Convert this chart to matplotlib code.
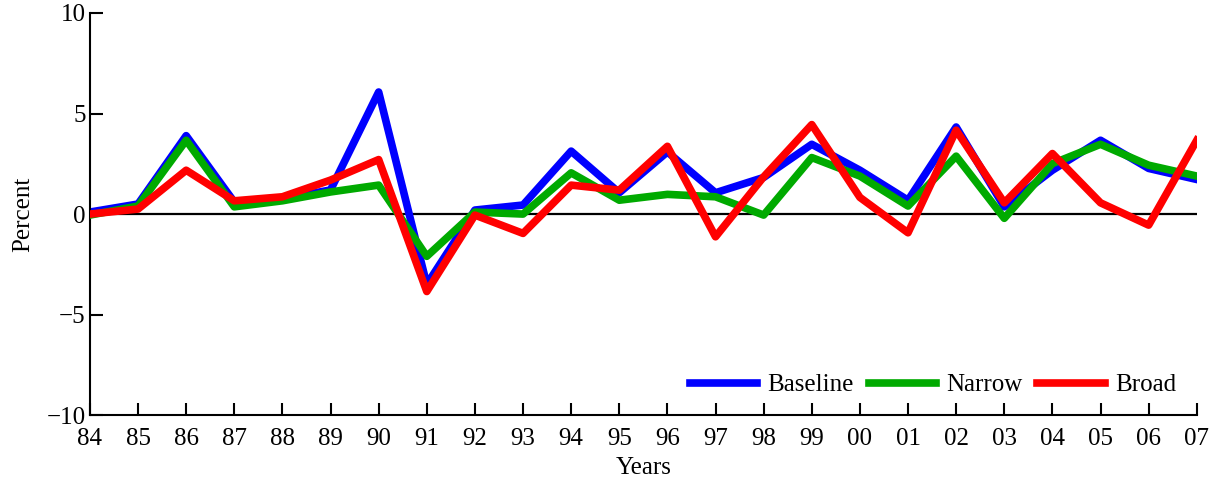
import matplotlib
matplotlib.use("Agg")
import matplotlib.pyplot as plt
import numpy as np

years = ["84", "85", "86", "87", "88", "89", "90", "91", "92", "93", "94", "95",
         "96", "97", "98", "99", "00", "01", "02", "03", "04", "05", "06", "07"]
baseline = [0.1, 0.5, 3.9, 0.6, 0.75, 1.2, 6.07, -3.5, 0.2, 0.45, 3.13, 1.06,
            3.09, 1.06, 1.82, 3.47, 2.18, 0.69, 4.33, 0.36, 2.18, 3.67, 2.27, 1.72]
narrow = [-0.05, 0.4, 3.67, 0.36, 0.66, 1.1, 1.44, -2.1, 0.1, 0.0, 2.05, 0.69,
          0.98, 0.86, -0.05, 2.81, 1.89, 0.4, 2.88, -0.21, 2.51, 3.47, 2.43, 1.89]
broad = [0.0, 0.25, 2.18, 0.66, 0.86, 1.69, 2.71, -3.85, -0.05, -0.96, 1.44, 1.19,
         3.37, -1.13, 1.85, 4.45, 0.83, -0.93, 4.17, 0.56, 3.01, 0.56, -0.55, 3.67]

plt.rcParams["font.family"] = ["Liberation Serif", "DejaVu Serif"]
plt.rcParams["font.size"] = 18

fig = plt.figure(figsize=(12.15, 4.8), dpi=100)
ax = fig.add_axes([0.074, 0.135, 0.911, 0.838])

x = np.arange(len(years))
ax.axhline(0, color="black", lw=1.6, zorder=1)
ax.plot(x, baseline, color="#0000ff", lw=5.5, label="Baseline", zorder=2)
ax.plot(x, narrow, color="#00aa00", lw=5.5, label="Narrow", zorder=3)
ax.plot(x, broad, color="#ff0000", lw=5.5, label="Broad", zorder=4)

ax.set_xlim(0, len(years) - 1)
ax.set_ylim(-10, 10)
ax.set_xticks(x)
ax.set_xticklabels(years)
ax.set_yticks([-10, -5, 0, 5, 10])
ax.set_yticklabels(["\u221210", "\u22125", "0", "5", "10"])
ax.tick_params(direction="in", length=9, width=1.5)
ax.tick_params(axis="x", pad=9)
ax.tick_params(axis="y", pad=3)
for side in ("top", "right"):
    ax.spines[side].set_visible(False)
for side in ("left", "bottom"):
    ax.spines[side].set_linewidth(1.5)

ax.set_xlabel("Years", labelpad=5)
ax.set_ylabel("Percent", labelpad=9)

ax.legend(loc="lower right", ncol=3, frameon=False, handlelength=2.7,
          handletextpad=0.4, columnspacing=0.6, borderaxespad=0.3,
          bbox_to_anchor=(0.997, 0.003))

fig.savefig("out.png", dpi=100)
